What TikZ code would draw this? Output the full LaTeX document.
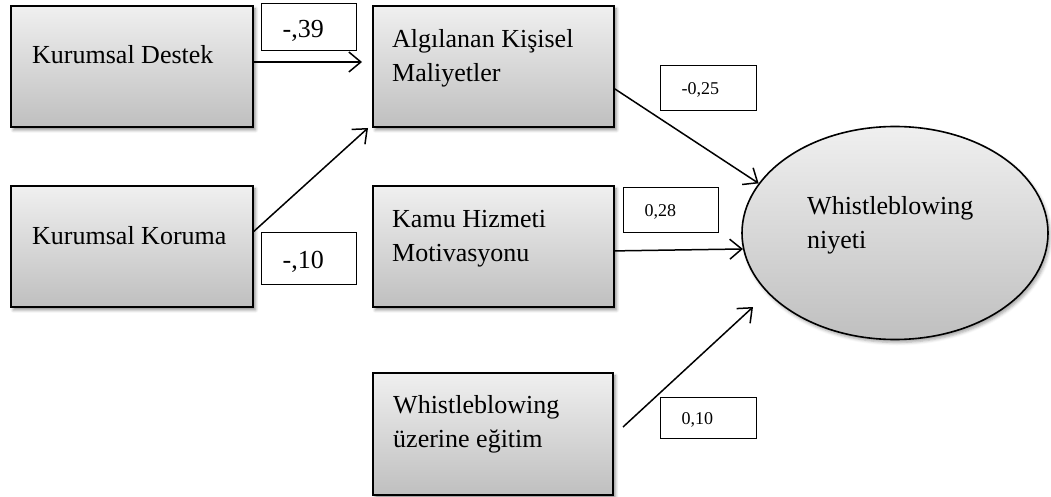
\documentclass[tikz,border=0pt]{standalone}
\usepackage{fontspec}
\setmainfont{Liberation Serif}
\usetikzlibrary{arrows.meta,shadows.blur,shapes.geometric}
\begin{document}
\begin{tikzpicture}[x=1pt,y=-1pt,
  construct/.style={draw=black,line width=1.8pt,rectangle,anchor=north west,inner sep=0pt,
    top color=gray!12,bottom color=gray!50,
    blur shadow={shadow xshift=2.5pt,shadow yshift=-3pt,shadow blur radius=3pt,shadow opacity=45}},
  outcome/.style={draw=black,line width=1.6pt,ellipse,inner sep=0pt,
    top color=gray!12,bottom color=gray!50,
    blur shadow={shadow xshift=2pt,shadow yshift=-3pt,shadow blur radius=3pt,shadow opacity=35}},
  bigtxt/.style={inner sep=0pt,align=left,font=\fontsize{26}{34}\selectfont},
  coef/.style={draw=black,line width=1.2pt,fill=white,rectangle,anchor=north west,
    inner ysep=0pt,inner xsep=21pt,align=left,text depth=0pt},
  coefbig/.style={coef,text height=20pt,font=\fontsize{26}{30}\selectfont},
  coefsmall/.style={coef,text height=12pt,font=\fontsize{18}{22}\selectfont},
  arr/.style={line width=1.5pt,-{Straight Barb[length=12pt,width=20pt,line width=1.5pt]}}]
\useasboundingbox (0,0) rectangle (1051,497);

% predictor and mediator boxes
\node[construct,minimum width=242pt,minimum height=121pt] (kd)  at (10,5)    {};
\node[construct,minimum width=241pt,minimum height=121pt] (akm) at (372,5)   {};
\node[construct,minimum width=242pt,minimum height=121pt] (kk)  at (10,185)  {};
\node[construct,minimum width=241pt,minimum height=121pt] (khm) at (372,185) {};
\node[construct,minimum width=240pt,minimum height=122pt] (wue) at (372,372) {};

% outcome
\node[outcome,minimum width=306pt,minimum height=213pt] (wn) at (895,233) {};

% box texts (anchored at the baseline of the last line)
\node[bigtxt,anchor=base west] (kd-t)  at (32,64)   {Kurumsal Destek};
\node[bigtxt,anchor=base west] (akm-t) at (392,82)  {Algılanan Kişisel\\Maliyetler};
\node[bigtxt,anchor=base west] (kk-t)  at (32,244)  {Kurumsal Koruma};
\node[bigtxt,anchor=base west] (khm-t) at (392,261) {Kamu Hizmeti\\Motivasyonu};
\node[bigtxt,anchor=base west] (wue-t) at (393,447) {Whistleblowing\\üzerine eğitim};
\node[bigtxt,anchor=base west] (wn-t)  at (807,248) {Whistleblowing\\niyeti};

% paths
\coordinate (a1e) at (362,62);
\coordinate (a2e) at (368,128);
\coordinate (a5s) at (623,427);
\coordinate (a5e) at (753,307);
\draw[arr] (kd.east |- a1e) -- (a1e);
\draw[arr] ([yshift=15pt]kk.east) -- (a2e);
\draw[arr] ([yshift=-22.5pt]akm.east) -- (wn.160);
\draw[arr] ([yshift=-4.5pt]khm.east) -- (wn.186);
\draw[arr] (a5s) -- (a5e);

% path coefficients
\node[coefbig,minimum width=95pt,minimum height=47pt,text width=53pt]   (c1) at (261,3)   {-,39};
\node[coefbig,minimum width=95pt,minimum height=52pt,text width=53pt]   (c2) at (261,232) {-,10};
\node[coefsmall,minimum width=96pt,minimum height=45pt,text width=54pt] (c3) at (660,65)  {-0,25};
\node[coefsmall,minimum width=95pt,minimum height=45pt,text width=53pt] (c4) at (623,187) {0,28};
\node[coefsmall,minimum width=96pt,minimum height=41pt,text width=54pt] (c5) at (660,397) {0,10};
\end{tikzpicture}
\end{document}
